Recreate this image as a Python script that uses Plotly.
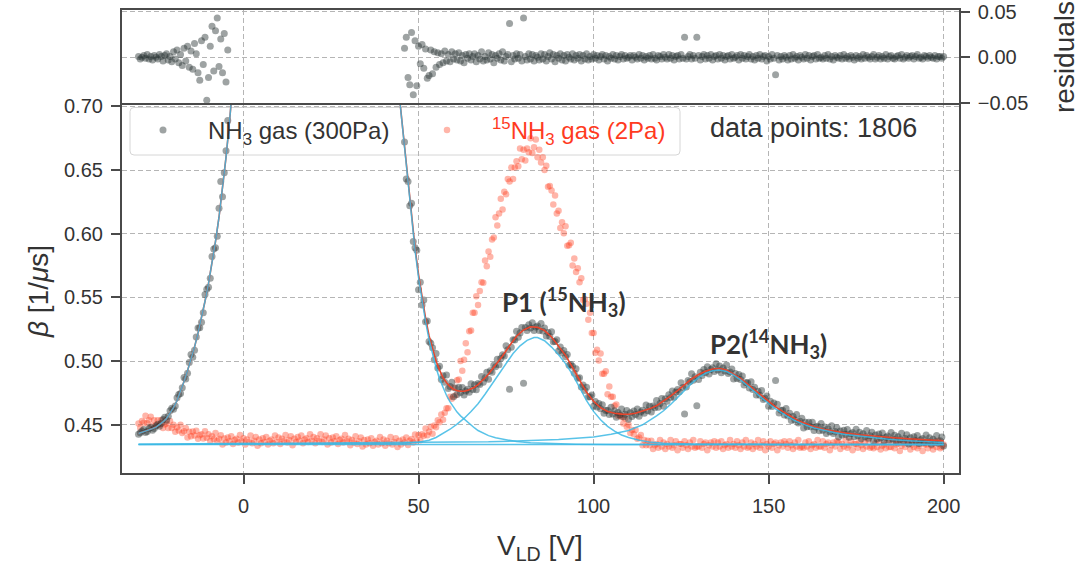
import numpy as np
import plotly.graph_objects as go

# ---------------- data ----------------
# NH3 gas (300Pa) measurement, voltage grid in V (0.5 V steps)
GRAY_V_LEFT = np.arange(-30.0, -4.49, 0.5)
GRAY_V_RIGHT = np.arange(46.0, 200.01, 0.5)

GRAY_BETA_LEFT = [
    0.4425, 0.4438, 0.4452, 0.4462, 0.4440, 0.4448, 0.4471, 0.4480, 0.4458, 0.4470,
    0.4490, 0.4505, 0.4488, 0.4512, 0.4541, 0.4560, 0.4535, 0.4568, 0.4610, 0.4630,
    0.4622, 0.4648, 0.4712, 0.4738, 0.4745, 0.4790, 0.4872, 0.4860, 0.4905, 0.4990,
    0.5052, 0.5030, 0.5085, 0.5190, 0.5261, 0.5262, 0.5305, 0.5380, 0.5523, 0.5565,
    0.5580, 0.5650, 0.5821, 0.5880, 0.5890, 0.5980, 0.6201, 0.6410, 0.6290, 0.6480,
    0.6652, 0.6890,
]
GRAY_BETA_RIGHT = [
    0.672, 0.643, 0.641, 0.622, 0.624, 0.594, 0.589, 0.587, 0.556, 0.562,
    0.544, 0.548, 0.531, 0.5315, 0.5155, 0.514, 0.5105, 0.501, 0.506, 0.4945,
    0.496, 0.4855, 0.4885, 0.4835, 0.489, 0.4785, 0.480, 0.4835, 0.472, 0.4789,
    0.4738, 0.4795, 0.4753, 0.4793, 0.4733, 0.4766, 0.4780, 0.4756, 0.4822, 0.4778,
    0.4815, 0.4775, 0.4825, 0.4817, 0.4880, 0.4834, 0.4868, 0.4913, 0.4858, 0.4925,
    0.4912, 0.4968, 0.4955, 0.5014, 0.4972, 0.5021, 0.5050, 0.5040, 0.5120, 0.5090,
    0.4780, 0.5109, 0.5168, 0.5166, 0.5235, 0.5188, 0.5220, 0.5263, 0.4826, 0.5263,
    0.5240, 0.5285, 0.5260, 0.5301, 0.5240, 0.5268, 0.5275, 0.5240, 0.5295, 0.5237,
    0.5260, 0.5198, 0.5225, 0.5193, 0.5230, 0.5153, 0.5155, 0.5168, 0.5080, 0.5111,
    0.5063, 0.5084, 0.5035, 0.5051, 0.4968, 0.4974, 0.4960, 0.4905, 0.4940, 0.4865,
    0.4870, 0.4796, 0.4813, 0.4769, 0.4795, 0.4718, 0.4720, 0.4733, 0.4645, 0.4682,
    0.4640, 0.4668, 0.4625, 0.4658, 0.4590, 0.4613, 0.4615, 0.4581, 0.4638, 0.4584,
    0.4610, 0.4559, 0.4597, 0.4576, 0.4624, 0.4564, 0.4583, 0.4613, 0.4543, 0.4595,
    0.4566, 0.4608, 0.4580, 0.4623, 0.4567, 0.4601, 0.4615, 0.4590, 0.4655, 0.4610,
    0.4645, 0.4601, 0.4647, 0.4633, 0.4690, 0.4638, 0.4667, 0.4706, 0.4645, 0.4705,
    0.4685, 0.4735, 0.4715, 0.4765, 0.4716, 0.4757, 0.4778, 0.4760, 0.4831, 0.4792,
    0.4584, 0.4797, 0.4848, 0.4838, 0.4900, 0.4849, 0.4878, 0.4650, 0.4855, 0.4912,
    0.4888, 0.4934, 0.4910, 0.4955, 0.4899, 0.4934, 0.4948, 0.4919, 0.4980, 0.4930,
    0.4962, 0.4909, 0.4946, 0.4923, 0.4970, 0.4903, 0.4915, 0.4938, 0.4860, 0.4902,
    0.4863, 0.4894, 0.4855, 0.4884, 0.4813, 0.4832, 0.4830, 0.4789, 0.4838, 0.4777,
    0.4795, 0.4734, 0.4763, 0.4732, 0.4770, 0.4699, 0.4708, 0.4727, 0.4645, 0.4684,
    0.4643, 0.4672, 0.4847, 0.4662, 0.4593, 0.4614, 0.4615, 0.4577, 0.4628, 0.4569,
    0.4590, 0.4533, 0.4565, 0.4538, 0.4580, 0.4514, 0.4528, 0.4552, 0.4475, 0.4520,
    0.4485, 0.4520, 0.4485, 0.4520, 0.4455, 0.4482, 0.4488, 0.4454, 0.4510, 0.4457,
    0.4483, 0.4431, 0.4468, 0.4446, 0.4493, 0.4431, 0.4448, 0.4476, 0.4404, 0.4451,
    0.4419, 0.4457, 0.4425, 0.4463, 0.4402, 0.4430, 0.4439, 0.4407, 0.4465, 0.4413,
    0.4442, 0.4390, 0.4429, 0.4407, 0.4456, 0.4394, 0.4413, 0.4441, 0.4370, 0.4419,
    0.4388, 0.4427, 0.4396, 0.4435, 0.4374, 0.4403, 0.4412, 0.4381, 0.4440, 0.4389,
    0.4418, 0.4367, 0.4406, 0.4385, 0.4434, 0.4373, 0.4392, 0.4421, 0.4350, 0.4399,
    0.4368, 0.4407, 0.4375, 0.4415, 0.4354, 0.4383, 0.4392, 0.4361, 0.4420, 0.4369,
    0.4398, 0.4347, 0.4386, 0.4366, 0.4415, 0.4355, 0.4374, 0.4404, 0.4334,
]

# residuals of the NH3 fit (same voltage grid)
RESID_LEFT = [
    0.001, -0.002, 0.000, 0.002, -0.001, 0.003, -0.002, 0.001, -0.003, 0.002,
    0.000, -0.002, 0.003, 0.001, -0.004, 0.002, 0.004, -0.003, 0.001, -0.005,
    0.006, -0.002, 0.008, -0.006, 0.003, -0.009, 0.010, -0.004, 0.012, -0.011,
    0.007, -0.013, 0.015, 0.004, -0.017, -0.025, 0.018, -0.008, 0.022, -0.047,
    -0.022, 0.012, 0.034, -0.015, 0.029, 0.043, -0.010, 0.020, -0.017, 0.026,
    -0.027, 0.008,
]
RESID_RIGHT = [
    0.010, 0.022, -0.022, -0.030, 0.027, -0.041, 0.018, -0.031, 0.012, -0.007,
    0.014, -0.012, 0.009, -0.023, -0.020, 0.008, -0.018, 0.006, -0.011, 0.005,
    -0.008, 0.004, -0.006, 0.007, -0.004, 0.003, -0.005, 0.006, -0.002, 0.004,
    -0.003, 0.005, -0.004, 0.002, -0.006, 0.003, -0.001, 0.004, -0.003, 0.001,
    0.004, -0.005, 0.002, -0.002, 0.006, -0.004, 0.001, -0.003, 0.005, -0.002,
    0.003, -0.006, 0.002, -0.001, 0.004, -0.003, 0.006, -0.004, 0.001, 0.003,
    0.037, -0.005, 0.002, -0.002, 0.004, -0.001, 0.003, -0.004, 0.043, 0.001,
    -0.003, 0.004, -0.002, 0.003, -0.004, 0.002, 0.000, -0.003, 0.004, -0.002,
    0.003, -0.004, 0.001, 0.005, -0.002, 0.003, -0.005, 0.002, -0.001, 0.004,
    -0.003, 0.002, -0.004, 0.003, 0.000, -0.002, 0.004, -0.003, 0.002, -0.001,
    0.003, -0.004, 0.002, -0.002, 0.004, -0.003, 0.001, -0.002, 0.003, -0.001,
    0.002, -0.003, 0.001, 0.003, -0.002, 0.002, -0.004, 0.001, -0.001, 0.003,
    -0.002, 0.002, -0.003, 0.001, 0.003, -0.002, 0.002, -0.001, 0.000, 0.002,
    -0.003, 0.002, 0.000, -0.002, 0.003, -0.001, 0.002, -0.003, 0.001, -0.001,
    0.002, -0.002, 0.003, -0.001, -0.003, 0.002, 0.001, -0.002, 0.003, 0.000,
    -0.002, 0.003, -0.001, 0.002, -0.003, 0.001, 0.002, -0.002, 0.003, -0.001,
    0.022, -0.002, 0.001, 0.003, -0.002, 0.002, -0.001, 0.022, 0.002, -0.003,
    0.001, 0.003, -0.002, 0.002, -0.001, 0.003, -0.003, 0.001, 0.002, -0.002,
    0.003, -0.001, 0.002, -0.003, 0.001, 0.002, -0.002, 0.003, -0.001, 0.000,
    0.002, -0.003, 0.003, -0.001, 0.002, -0.002, 0.001, 0.003, -0.002, 0.001,
    -0.003, 0.002, -0.001, 0.003, -0.002, 0.001, 0.002, -0.004, 0.001, -0.002,
    0.003, -0.001, -0.019, 0.002, -0.003, 0.001, -0.002, 0.002, 0.000, -0.003,
    0.002, -0.002, 0.003, -0.001, 0.001, -0.003, 0.002, 0.000, -0.002, 0.003,
    -0.001, 0.002, -0.003, 0.001, 0.002, -0.002, 0.003, -0.001, 0.000, -0.002,
    0.002, -0.001, 0.003, -0.002, 0.001, -0.003, 0.002, 0.000, -0.001, 0.002,
    -0.002, 0.003, -0.001, 0.001, -0.002, 0.002, 0.000, -0.003, 0.002, -0.001,
    0.001, -0.002, 0.003, -0.001, 0.002, 0.000, -0.002, 0.001, 0.003, -0.002,
    0.000, 0.002, -0.002, 0.001, -0.001, 0.003, -0.002, 0.001, 0.002, -0.001,
    -0.002, 0.001, 0.002, -0.001, 0.003, -0.002, 0.000, 0.002, -0.001, 0.001,
    0.002, -0.002, 0.001, 0.003, -0.001, 0.000, -0.002, 0.002, 0.001, -0.001,
    0.002, 0.000, -0.001, 0.002, -0.002, 0.001, 0.001, -0.001, 0.001,
]

# 15NH3 gas (2Pa) measurement, voltage grid in V (0.5 V steps)
RED_V = np.arange(-30.0, 200.01, 0.5)
RED_BETA = [
    0.451, 0.4475, 0.453, 0.4515, 0.457, 0.4513, 0.4535, 0.4563, 0.449, 0.4535,
    0.450, 0.4535, 0.450, 0.4538, 0.4475, 0.4503, 0.451, 0.4475, 0.453, 0.4475,
    0.450, 0.4445, 0.448, 0.4455, 0.450, 0.4435, 0.445, 0.4475, 0.440, 0.4445,
    0.441, 0.4448, 0.4415, 0.4453, 0.439, 0.4418, 0.4425, 0.4393, 0.445, 0.4398,
    0.4425, 0.4373, 0.441, 0.4388, 0.4435, 0.4373, 0.439, 0.4418, 0.4345, 0.4393,
    0.436, 0.440, 0.437, 0.441, 0.435, 0.438, 0.439, 0.436, 0.442, 0.437,
    0.4395, 0.4345, 0.4385, 0.4365, 0.4415, 0.4355, 0.4375, 0.4405, 0.4335, 0.4385,
    0.4355, 0.4395, 0.4365, 0.4405, 0.4345, 0.4375, 0.4385, 0.4355, 0.4415, 0.4365,
    0.440, 0.435, 0.439, 0.437, 0.442, 0.436, 0.438, 0.441, 0.434, 0.439,
    0.4365, 0.4405, 0.4375, 0.4415, 0.4355, 0.4385, 0.4395, 0.4365, 0.4425, 0.4375,
    0.4405, 0.4355, 0.4395, 0.4375, 0.4425, 0.4365, 0.4385, 0.4415, 0.4345, 0.4395,
    0.436, 0.440, 0.437, 0.441, 0.435, 0.438, 0.439, 0.436, 0.442, 0.437,
    0.439, 0.434, 0.438, 0.436, 0.441, 0.435, 0.437, 0.440, 0.433, 0.438,
    0.4345, 0.4385, 0.4355, 0.4395, 0.4335, 0.4365, 0.4375, 0.4345, 0.4405, 0.4355,
    0.4385, 0.4335, 0.4375, 0.4355, 0.4405, 0.4345, 0.4365, 0.4395, 0.4325, 0.4375,
    0.4345, 0.4385, 0.436, 0.440, 0.4342, 0.4375, 0.4388, 0.436, 0.4423, 0.4377,
    0.442, 0.4378, 0.4425, 0.4413, 0.447, 0.4418, 0.4445, 0.4485, 0.443, 0.4495,
    0.448, 0.4535, 0.452, 0.458, 0.454, 0.4595, 0.463, 0.463, 0.472, 0.4705,
    0.479, 0.473, 0.485, 0.4855, 0.500, 0.4925, 0.501, 0.514, 0.507, 0.5235,
    0.524, 0.538, 0.538, 0.551, 0.544, 0.555, 0.562, 0.5615, 0.579, 0.5745,
    0.586, 0.582, 0.5955, 0.597, 0.613, 0.6065, 0.616, 0.6275, 0.619, 0.633,
    0.631, 0.643, 0.641, 0.652, 0.643, 0.652, 0.657, 0.653, 0.667, 0.6585,
    0.666, 0.6575, 0.667, 0.664, 0.675, 0.6635, 0.668, 0.674, 0.660, 0.666,
    0.656, 0.660, 0.650, 0.6535, 0.637, 0.6375, 0.634, 0.623, 0.630, 0.616,
    0.618, 0.6045, 0.609, 0.6005, 0.606, 0.5905, 0.591, 0.593, 0.575, 0.5805,
    0.570, 0.573, 0.562, 0.565, 0.548, 0.5485, 0.545, 0.5325, 0.538, 0.522,
    0.522, 0.5065, 0.509, 0.5005, 0.506, 0.490, 0.490, 0.492, 0.474, 0.480,
    0.472, 0.472, 0.465, 0.466, 0.457, 0.4575, 0.456, 0.451, 0.455, 0.4485,
    0.450, 0.4435, 0.446, 0.4425, 0.446, 0.439, 0.440, 0.442, 0.434, 0.438,
    0.434, 0.4375, 0.434, 0.4375, 0.431, 0.434, 0.435, 0.432, 0.438, 0.433,
    0.436, 0.431, 0.435, 0.433, 0.438, 0.432, 0.434, 0.437, 0.430, 0.435,
    0.435, 0.432, 0.437, 0.434, 0.431, 0.436, 0.433, 0.438, 0.432, 0.433,
    0.433, 0.437, 0.432, 0.435, 0.436, 0.430, 0.434, 0.436, 0.433, 0.437,
    0.432, 0.436, 0.433, 0.437, 0.431, 0.434, 0.435, 0.432, 0.438, 0.433,
    0.435, 0.432, 0.437, 0.434, 0.431, 0.436, 0.433, 0.438, 0.432, 0.433,
    0.436, 0.431, 0.435, 0.433, 0.438, 0.432, 0.434, 0.437, 0.430, 0.435,
    0.433, 0.437, 0.432, 0.435, 0.436, 0.430, 0.434, 0.436, 0.433, 0.437,
    0.435, 0.432, 0.437, 0.434, 0.431, 0.436, 0.433, 0.438, 0.432, 0.433,
    0.432, 0.436, 0.433, 0.437, 0.431, 0.434, 0.435, 0.432, 0.438, 0.433,
    0.433, 0.437, 0.432, 0.435, 0.436, 0.430, 0.434, 0.436, 0.433, 0.437,
    0.436, 0.431, 0.435, 0.433, 0.438, 0.432, 0.434, 0.437, 0.430, 0.435,
    0.435, 0.432, 0.437, 0.434, 0.431, 0.436, 0.433, 0.438, 0.432, 0.433,
    0.4315, 0.4355, 0.4325, 0.4365, 0.4305, 0.4335, 0.4345, 0.4315, 0.4375, 0.4325,
    0.4325, 0.4365, 0.4315, 0.4345, 0.4355, 0.4295, 0.4335, 0.4355, 0.4325, 0.4365,
    0.4355, 0.4305, 0.4345, 0.4325, 0.4375, 0.4315, 0.4335, 0.4365, 0.4295, 0.4345,
    0.4345, 0.4315, 0.4365, 0.4335, 0.4305, 0.4355, 0.4325, 0.4375, 0.4315, 0.4325,
    0.4345,
]

# fitted curves
FIT_V_LEFT = [-30, -29, -28, -27, -26, -25, -24, -23, -22, -21, -20, -19, -18, -17,
              -16, -15, -14, -13, -12, -11, -10, -9, -8, -7, -6, -5, -4, -3]
FIT_BETA_LEFT = [0.4432, 0.4440, 0.4450, 0.4460, 0.4470, 0.4482, 0.4500, 0.4522,
                 0.4550, 0.4590, 0.4635, 0.4690, 0.4760, 0.4840, 0.4925, 0.5010,
                 0.5110, 0.5220, 0.5340, 0.5470, 0.5610, 0.5770, 0.5940, 0.6130,
                 0.6350, 0.6600, 0.6880, 0.7200]

TOTAL_V_RIGHT = [44, 45, 46, 47, 48, 49, 50, 51, 52, 53, 54, 55, 56, 57, 58, 59, 60,
                 61, 62, 63, 64, 65, 66, 67, 68, 69, 70, 72, 74, 76, 78, 80, 82, 84,
                 86, 88, 90, 92, 94, 96, 98, 100, 102, 104, 106, 108, 110, 112, 114,
                 116, 118, 120, 122, 124, 126, 128, 130, 132, 134, 136, 138, 140, 142,
                 144, 146, 148, 150, 152, 154, 156, 158, 160, 163, 166, 169, 172, 176,
                 180, 185, 190, 195, 200]
TOTAL_BETA_RIGHT = [0.722, 0.695, 0.666, 0.638, 0.612, 0.589, 0.568, 0.550, 0.534,
                    0.520, 0.509, 0.500, 0.493, 0.487, 0.483, 0.480, 0.478, 0.4768,
                    0.4763, 0.4763, 0.4770, 0.4782, 0.4795, 0.4815, 0.4840, 0.4868,
                    0.4898, 0.4965, 0.5040, 0.5120, 0.5195, 0.5245, 0.5270, 0.5265,
                    0.5240, 0.5190, 0.5120, 0.5045, 0.4950, 0.4850, 0.4755, 0.4685,
                    0.4635, 0.4605, 0.4590, 0.4584, 0.4583, 0.4590, 0.4605, 0.4625,
                    0.4650, 0.4685, 0.4725, 0.4768, 0.4815, 0.4860, 0.4895, 0.4920,
                    0.4938, 0.4942, 0.4930, 0.4900, 0.4865, 0.4820, 0.4775, 0.4730,
                    0.4685, 0.4640, 0.4605, 0.4570, 0.4540, 0.4515, 0.4485, 0.4463,
                    0.4448, 0.4435, 0.4422, 0.4410, 0.4400, 0.4390, 0.4382, 0.4374]

MAIN_V_RIGHT = [44, 45, 46, 47, 48, 49, 50, 51, 52, 53, 54, 55, 56, 57, 58, 59, 60,
                61, 62, 63, 64, 65, 66, 67, 68, 70, 72, 75, 78, 82, 88, 95, 105, 200]
MAIN_BETA_RIGHT = [0.722, 0.695, 0.665, 0.637, 0.611, 0.587, 0.5655, 0.547, 0.531,
                   0.517, 0.505, 0.495, 0.486, 0.479, 0.473, 0.468, 0.4635, 0.4600,
                   0.4570, 0.4545, 0.4522, 0.4502, 0.4475, 0.4455, 0.4440, 0.4415,
                   0.4398, 0.4380, 0.4368, 0.4358, 0.4352, 0.4348, 0.4346, 0.4345]

P1_V = [-30, 40, 45, 50, 53, 55, 57, 59, 61, 63, 65, 67, 69, 71, 73, 75, 77, 79, 81,
        83, 84, 86, 88, 90, 92, 94, 96, 98, 100, 102, 104, 106, 108, 110, 113, 116,
        120, 130, 150, 200]
P1_BETA = [0.4345, 0.4350, 0.4354, 0.4362, 0.4378, 0.4400, 0.4430, 0.4465, 0.4505,
           0.4550, 0.4605, 0.4665, 0.4740, 0.4820, 0.4905, 0.4985, 0.5060, 0.5120,
           0.5163, 0.5185, 0.5185, 0.5160, 0.5110, 0.5050, 0.4980, 0.4895, 0.4790,
           0.4690, 0.4605, 0.4540, 0.4488, 0.4450, 0.4420, 0.4400, 0.4378, 0.4365,
           0.4355, 0.4348, 0.4346, 0.4345]

P2_V = [-30, 60, 70, 80, 90, 100, 105, 110, 114, 118, 120, 122, 124, 126, 128, 130,
        132, 134, 136, 138, 140, 142, 144, 146, 148, 150, 152, 154, 156, 158, 160,
        163, 166, 169, 172, 176, 180, 185, 190, 195, 200]
P2_BETA = [0.4348, 0.4360, 0.4366, 0.4374, 0.4385, 0.4405, 0.4425, 0.4455, 0.4500,
           0.4570, 0.4610, 0.4660, 0.4715, 0.4770, 0.4825, 0.4870, 0.4905, 0.4925,
           0.4930, 0.4918, 0.4890, 0.4852, 0.4805, 0.4758, 0.4712, 0.4667, 0.4625,
           0.4588, 0.4555, 0.4527, 0.4503, 0.4475, 0.4453, 0.4437, 0.4423, 0.4410,
           0.4398, 0.4385, 0.4375, 0.4367, 0.4360]

BASELINE_V = [-30, 200]
BASELINE_BETA = [0.4345, 0.4345]

N_POINTS = 1806

for a, b in [(GRAY_V_LEFT, GRAY_BETA_LEFT), (GRAY_V_RIGHT, GRAY_BETA_RIGHT),
             (GRAY_V_LEFT, RESID_LEFT), (GRAY_V_RIGHT, RESID_RIGHT), (RED_V, RED_BETA)]:
    if len(a) != len(b):
        raise ValueError(f"length mismatch {len(a)} vs {len(b)}")

# ---------------- styling ----------------
FONT = "Liberation Sans, Arial, sans-serif"
TXT = "#333333"
AX = "#4a4a4a"
GRID = "#b5b5b5"
GRAY_PT = "rgba(40,50,50,0.45)"
RED_PT = "rgba(255,60,30,0.38)"
RED_LINE = "#e8452c"
BLUE_LINE = "rgba(60,185,228,0.85)"

W, H = 1081, 569
XL, XR = 121.7 / W, 959.0 / W
Y_MAIN = [1 - 473.3 / H, 1 - 103.0 / H]
Y_RES = [1 - 103.0 / H, 1 - 10.3 / H]

fig = go.Figure()

gray_v = list(GRAY_V_LEFT) + list(GRAY_V_RIGHT)
gray_b = GRAY_BETA_LEFT + GRAY_BETA_RIGHT
resid = RESID_LEFT + RESID_RIGHT

fig.add_trace(go.Scatter(x=RED_V, y=RED_BETA, mode="markers",
                         marker=dict(size=6.5, color=RED_PT, line=dict(width=0)),
                         name='<span style="color:#ff3b1f"><sup>15</sup>NH<sub>3</sub> gas (2Pa)</span>',
                         xaxis="x", yaxis="y"))
fig.add_trace(go.Scatter(x=gray_v, y=gray_b, mode="markers",
                         marker=dict(size=7, color=GRAY_PT, line=dict(width=0)),
                         name="NH<sub>3</sub> gas (300Pa)", xaxis="x", yaxis="y"))

fit_total_v = FIT_V_LEFT + [None] + TOTAL_V_RIGHT
fit_total_b = FIT_BETA_LEFT + [None] + TOTAL_BETA_RIGHT
fig.add_trace(go.Scatter(x=fit_total_v, y=fit_total_b, mode="lines",
                         line=dict(color=RED_LINE, width=1.6), showlegend=False,
                         xaxis="x", yaxis="y"))
main_v = FIT_V_LEFT + [None] + MAIN_V_RIGHT
main_b = FIT_BETA_LEFT + [None] + MAIN_BETA_RIGHT
for xs, ys in [(BASELINE_V, BASELINE_BETA), (P1_V, P1_BETA), (P2_V, P2_BETA), (main_v, main_b)]:
    fig.add_trace(go.Scatter(x=xs, y=ys, mode="lines", line=dict(color=BLUE_LINE, width=1.5),
                             showlegend=False, xaxis="x", yaxis="y"))

fig.add_trace(go.Scatter(x=gray_v, y=resid, mode="markers",
                         marker=dict(size=7, color=GRAY_PT, line=dict(width=0)),
                         showlegend=False, xaxis="x2", yaxis="y2"))

axis_common = dict(showline=True, linecolor=AX, linewidth=1.5,
                   gridcolor=GRID, griddash="5px,3px", gridwidth=1, zeroline=False,
                   tickfont=dict(family=FONT, size=20, color=TXT), automargin=False,
                   tickcolor=AX, ticklen=9, tickwidth=1.5)

fig.update_layout(
    width=W, height=H, autosize=False,
    margin=dict(l=0, r=0, t=0, b=0, pad=0),
    paper_bgcolor="white", plot_bgcolor="white",
    font=dict(family=FONT, color=TXT),
    xaxis=dict(domain=[XL, XR], range=[-34.8, 204.4], anchor="y", mirror=False,
               tickvals=[0, 50, 100, 150, 200], ticks="outside", showgrid=True,
               ticklabelstandoff=5, **axis_common),
    yaxis=dict(domain=Y_MAIN, range=[0.4119, 0.7027], anchor="x", mirror=True,
               tickvals=[0.45, 0.50, 0.55, 0.60, 0.65, 0.70], tickformat=".2f",
               ticks="outside", showgrid=True, ticklabelstandoff=4, **axis_common),
    xaxis2=dict(domain=[XL, XR], range=[-34.8, 204.4], anchor="y2", matches="x",
                mirror=True, tickvals=[0, 50, 100, 150, 200], ticks="",
                showticklabels=False, showgrid=True, **axis_common),
    yaxis2=dict(domain=Y_RES, range=[-0.05, 0.0514], anchor="x2", side="right",
                mirror=True, tickvals=[-0.05, 0.0, 0.05], tickformat=".2f",
                ticks="outside", showgrid=True, ticklabelstandoff=4, **axis_common),
    legend=dict(orientation="h", x=118 / W, y=1 - 108 / H, xanchor="left", yanchor="top",
                bgcolor="rgba(0,0,0,0)", borderwidth=0,
                font=dict(family=FONT, size=24, color=TXT),
                entrywidth=189, entrywidthmode="pixels", traceorder="reversed",
                itemwidth=80),
)

# rounded legend frame
x0, x1 = 130 / W, 680 / W
y0, y1 = 1 - 155 / H, 1 - 107.5 / H
rx, ry = 4 / W, 4 / H
path = (f"M {x0+rx},{y1} L {x1-rx},{y1} Q {x1},{y1} {x1},{y1-ry} L {x1},{y0+ry} "
        f"Q {x1},{y0} {x1-rx},{y0} L {x0+rx},{y0} Q {x0},{y0} {x0},{y0+ry} "
        f"L {x0},{y1-ry} Q {x0},{y1} {x0+rx},{y1} Z")
fig.add_shape(type="path", path=path, xref="paper", yref="paper",
              fillcolor="rgba(255,255,255,0.8)", line=dict(color="#d6d6d6", width=1),
              layer="between")

ann = [
    dict(text=f"data points: {N_POINTS}", x=708 / W, y=1 - 128 / H, xanchor="left",
         yanchor="middle", font=dict(size=27, family=FONT, color=TXT)),
    dict(text="<b>P1 (<sup>15</sup>NH<sub>3</sub>)</b>", x=564 / W, y=1 - 302 / H,
         xanchor="center", yanchor="middle", font=dict(size=26, family="Lato, sans-serif", color=TXT)),
    dict(text="<b>P2(<sup>14</sup>NH<sub>3</sub>)</b>", x=768 / W, y=1 - 344 / H,
         xanchor="center", yanchor="middle", font=dict(size=26, family="Lato, sans-serif", color=TXT)),
    dict(text="<i>β</i> [1/<i>μ</i>s]", x=38 / W, y=1 - 292 / H, textangle=-90,
         xanchor="center", yanchor="middle", font=dict(size=28, family=FONT, color=TXT)),
    dict(text="V<sub>LD</sub> [V]", x=540 / W, y=1 - 547 / H, xanchor="center",
         yanchor="middle", font=dict(size=28, family=FONT, color=TXT)),
    dict(text="residuals", x=1064 / W, y=1 - 57 / H, textangle=-90, xanchor="center",
         yanchor="middle", font=dict(size=28, family=FONT, color=TXT)),
]
for a in ann:
    fig.add_annotation(xref="paper", yref="paper", showarrow=False, **a)

fig.write_html("out.html")
